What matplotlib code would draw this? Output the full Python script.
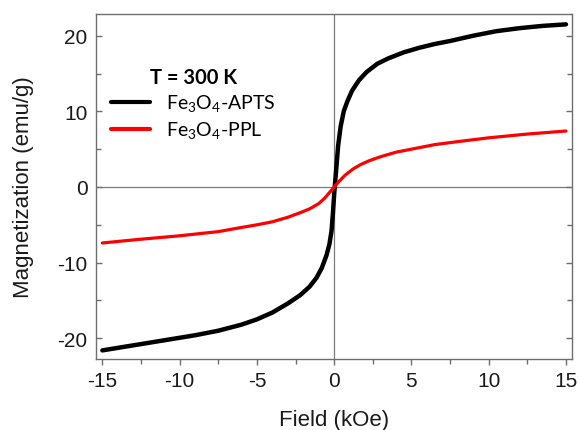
import numpy as np
import matplotlib
matplotlib.use("Agg")
import matplotlib.pyplot as plt
from matplotlib.ticker import MultipleLocator

plt.rcParams['font.family'] = ['Liberation Sans', 'DejaVu Sans']
plt.rcParams['mathtext.fontset'] = 'custom'
plt.rcParams['mathtext.rm'] = 'Lato'
plt.rcParams['axes.unicode_minus'] = False

# M-H loops at 300 K, field in kOe, magnetization in emu/g
apts_field = [-15, -13.5, -12, -10.5, -9, -7.5, -6, -5, -4, -3, -2.2, -1.6, -1.14, -0.8,
              -0.49, -0.3, -0.17, -0.08, 0.0, 0.12, 0.26, 0.42, 0.62, 0.85, 1.15, 1.6,
              2.1, 2.8, 3.5, 4.5, 5.5, 6.5, 7.5, 9, 10.5, 12, 13.5, 15]
apts_mag = [-21.6, -21.1, -20.6, -20.1, -19.6, -19.0, -18.2, -17.5, -16.6, -15.4, -14.3,
            -13.2, -12.0, -10.7, -9.0, -7.5, -5.8, -3.5, -1.0, 2.0, 5.5, 8.0, 10.0, 11.3,
            12.7, 14.1, 15.2, 16.3, 17.0, 17.8, 18.4, 18.9, 19.3, 20.0, 20.6, 21.0, 21.3, 21.5]

ppl_field = [-15, -12.5, -10, -7.5, -6, -5, -4, -3, -2.2, -1.6, -1.0, -0.6, -0.25,
             0, 0.3, 0.7, 1.2, 1.7, 2.3, 3.0, 4.0, 5.0, 6.5, 8.0, 10.0, 12.5, 15]
ppl_mag = [-7.4, -6.9, -6.45, -5.9, -5.35, -5.0, -4.6, -4.0, -3.4, -2.9, -2.2, -1.45, -0.6,
           0.0, 0.7, 1.55, 2.35, 2.95, 3.5, 4.0, 4.6, 5.0, 5.6, 6.0, 6.5, 7.0, 7.4]

x_ticks = [-15, -10, -5, 0, 5, 10, 15]
y_ticks = [-20, -10, 0, 10, 20]

fig = plt.figure(figsize=(5.79, 4.31), dpi=100)
ax = fig.add_axes([0.1658, 0.1647, 0.8221, 0.8005])

ax.axhline(0, color='#7a7a7a', lw=0.9, zorder=1)
ax.axvline(0, color='#7a7a7a', lw=0.9, zorder=1)

ax.plot(apts_field, apts_mag, color='black', lw=3.2, solid_capstyle='round',
        solid_joinstyle='round',
        label=r'Fe$_\mathregular{3}$O$_\mathregular{4}$-APTS', zorder=3)
ax.plot(ppl_field, ppl_mag, color='#ff0000', lw=2.3, solid_capstyle='round',
        solid_joinstyle='round',
        label=r'Fe$_\mathregular{3}$O$_\mathregular{4}$-PPL', zorder=4)

ax.set_xlim(-15.41, 15.39)
ax.set_ylim(-22.74, 22.87)
ax.set_xticks(x_ticks)
ax.set_yticks(y_ticks)
ax.xaxis.set_minor_locator(MultipleLocator(2.5))
ax.yaxis.set_minor_locator(MultipleLocator(5))

for s in ax.spines.values():
    s.set_color('#6e6e6e')
    s.set_linewidth(1.0)

ax.tick_params(axis='x', which='both', direction='out', top=False, colors='#6e6e6e',
               labelcolor='#1a1a1a', labelsize=15, pad=4)
ax.tick_params(axis='x', which='major', length=4.5, width=1.0)
ax.tick_params(axis='x', which='minor', length=3.5, width=1.0)
ax.tick_params(axis='y', which='both', direction='in', right=True, colors='#6e6e6e',
               labelcolor='#1a1a1a', labelsize=15, pad=6)
ax.tick_params(axis='y', which='major', length=4.5, width=1.0)
ax.tick_params(axis='y', which='minor', length=3.5, width=1.0)

ax.set_xlabel('Field (kOe)', fontsize=16, color='#1a1a1a', labelpad=14)
ax.set_ylabel('Magnetization (emu/g)', fontsize=16, color='#1a1a1a', labelpad=17)

leg = ax.legend(loc='upper left', bbox_to_anchor=(0.015, 0.87), frameon=False,
                title='T = 300 K', prop={'family': 'Lato', 'size': 14},
                handlelength=2.0, handletextpad=0.85, labelspacing=0.3,
                borderaxespad=0)
leg.get_title().set_fontfamily('Lato')
leg.get_title().set_fontsize(14.5)
leg.get_title().set_fontweight('bold')
for line in leg.get_lines():
    line.set_linewidth(3.0)

fig.savefig('out.png', dpi=100)
